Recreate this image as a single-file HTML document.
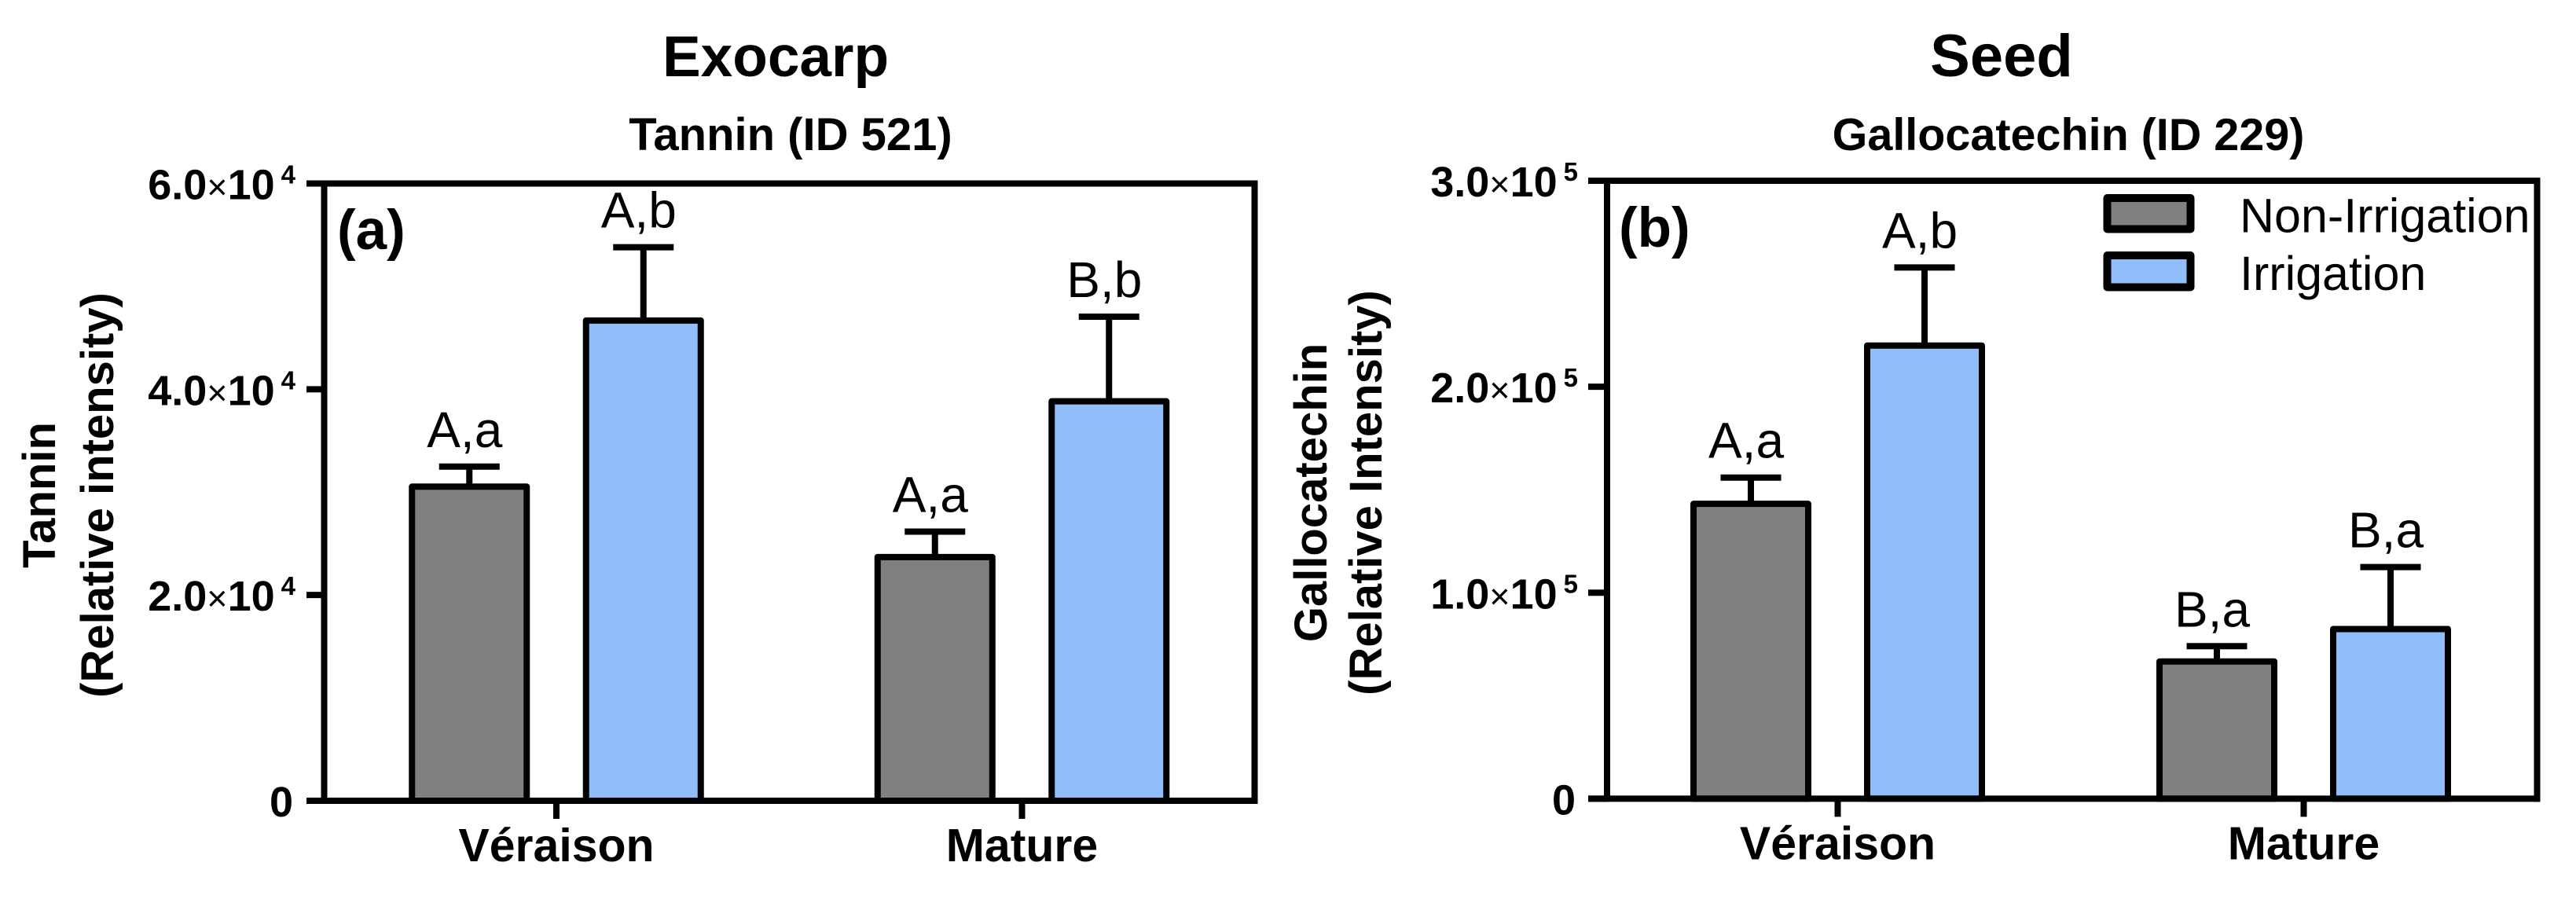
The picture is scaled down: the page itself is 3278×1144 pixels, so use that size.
<!DOCTYPE html>
<html lang="en">
<head>
<meta charset="utf-8">
<title>Exocarp and Seed relative intensity</title>
<style>
html,body{margin:0;padding:0;background:#fff;width:3278px;height:1144px;overflow:hidden}
svg{display:block}
text{font-family:"Liberation Sans",Arial,sans-serif;fill:#000}
.b{font-weight:bold}
</style>
</head>
<body>
<svg id="figure" xmlns="http://www.w3.org/2000/svg" width="3278" height="1144" viewBox="0 0 3278 1144">
  <rect x="0" y="0" width="3278" height="1144" fill="#fff"/>

  <text class="b" x="987" y="97" font-size="73" text-anchor="middle">Exocarp</text>
  <text class="b" x="1006" y="191" font-size="58" text-anchor="middle">Tannin (ID 521)</text>
  <text class="b" font-size="58" text-anchor="middle" transform="translate(70 630) rotate(-90)">Tannin</text>
  <text class="b" font-size="58" text-anchor="middle" transform="translate(144 630) rotate(-90)">(Relative intensity)</text>
  <text class="b" x="429" y="317" font-size="71">(a)</text>

  <text class="b" x="2547" y="97" font-size="76" text-anchor="middle">Seed</text>
  <text class="b" x="2632" y="191" font-size="57.5" text-anchor="middle">Gallocatechin (ID 229)</text>
  <text class="b" font-size="58" text-anchor="middle" transform="translate(1688 627) rotate(-90)">Gallocatechin</text>
  <text class="b" font-size="58" text-anchor="middle" transform="translate(1758 627) rotate(-90)">(Relative Intensity)</text>
  <text class="b" x="2060" y="314" font-size="71">(b)</text>

  <g id="panel-a"></g>
  <g id="panel-b"></g>

  <g>
    <rect x="2681.5" y="252" width="106" height="39.5" fill="#808080" stroke="#000" stroke-width="10" stroke-linejoin="round"/>
    <text x="2850" y="295.5" font-size="61">Non-Irrigation</text>
    <rect x="2681.5" y="325" width="106" height="40.5" fill="#91BEFA" stroke="#000" stroke-width="10" stroke-linejoin="round"/>
    <text x="2850" y="369" font-size="61">Irrigation</text>
  </g>
</svg>
<script>
const categories = ["Véraison", "Mature"];

const exocarpTicks = [0, 20000, 40000, 60000];
const exocarpTickLabels = ["0", "2.0×10^4", "4.0×10^4", "6.0×10^4"];
const exocarpNonIrrigation = [30530, 23690];
const exocarpIrrigation = [46680, 38830];
const exocarpNonIrrigationErrorTop = [32480, 26160];
const exocarpIrrigationErrorTop = [53800, 47050];
const exocarpNonIrrigationLetters = ["A,a", "A,a"];
const exocarpIrrigationLetters = ["A,b", "B,b"];

const seedTicks = [0, 100000, 200000, 300000];
const seedTickLabels = ["0", "1.0×10^5", "2.0×10^5", "3.0×10^5"];
const seedNonIrrigation = [143150, 66640];
const seedIrrigation = [220000, 82370];
const seedNonIrrigationErrorTop = [155900, 74050];
const seedIrrigationErrorTop = [257900, 112450];
const seedNonIrrigationLetters = ["A,a", "B,a"];
const seedIrrigationLetters = ["A,b", "B,a"];

const SVGNS = "http://www.w3.org/2000/svg";
function make(tag, attrs, parent) {
  const el = document.createElementNS(SVGNS, tag);
  for (const k in attrs) el.setAttribute(k, attrs[k]);
  parent.appendChild(el);
  return el;
}

function drawPanel(cfg) {
  const g = document.getElementById(cfg.id);
  const yScale = v => cfg.y0 - (v / cfg.yMax) * (cfg.y0 - cfg.yTop);
  const xScale = i => cfg.x0cat + i * cfg.catStep;

  // frame: top and right
  const frameTop = make("line", {x1: cfg.tickLeft, x2: cfg.right + 4, y1: cfg.yTop, y2: cfg.yTop, stroke: "#000", "stroke-width": 8}, g);
  
  
  const frameRight = make("line", {x1: cfg.right, x2: cfg.right, y1: cfg.yTop, y2: cfg.y0 + 4, stroke: "#000", "stroke-width": 8}, g);
  
  
  const yAxis = make("line", {x1: cfg.left, x2: cfg.left, y1: cfg.yTop, y2: cfg.y0, stroke: "#000", "stroke-width": 8}, g);
  
  

  // y ticks
  cfg.ticks.forEach((t, i) => {
    const y = yScale(t);
    const tick = make("line", {x1: cfg.tickLeft, x2: cfg.left, y1: y, y2: y, stroke: "#000", "stroke-width": 8}, g);
    
    
    const label = cfg.tickLabels[i];
    const text = make("text", {x: cfg.labelRight, y: y + 20, "text-anchor": "end", "font-size": 54, "font-weight": "bold"}, g);
    
    
    if (label.indexOf("×") < 0) {
      text.setAttribute("x", cfg.labelRight - 3);
      text.textContent = label;
    } else {
      const mant = label.split("×")[0];
      const rest = label.split("×")[1].split("^");
      make("tspan", {}, text).textContent = mant;
      make("tspan", {"font-weight": "normal", "font-size": 45}, text).textContent = "×";
      make("tspan", {}, text).textContent = rest[0];
      make("tspan", {"font-size": 33, dx: 8, dy: -20}, text).textContent = rest[1];
    }
  });

  // bars, error bars, letters
  const series = [
    {name: "non-irrigation", vals: cfg.nonIrr, err: cfg.nonIrrErr, letters: cfg.nonIrrLetters, fill: "#808080", off: -cfg.dodge},
    {name: "irrigation", vals: cfg.irr, err: cfg.irrErr, letters: cfg.irrLetters, fill: "#91BEFA", off: cfg.dodge}
  ];
  series.forEach(s => {
    s.vals.forEach((v, i) => {
      const cx = xScale(i) + s.off;
      const yv = yScale(v);
      const ye = yScale(s.err[i]);
      const stem = make("line", {x1: cx, x2: cx, y1: ye, y2: yv, stroke: "#000", "stroke-width": 8}, g);
      
      
      const cap = make("line", {x1: cx - 38.5, x2: cx + 38.5, y1: ye, y2: ye, stroke: "#000", "stroke-width": 8}, g);
      
      
      const bar = make("rect", {x: cx - 73, y: yv, width: 146, height: cfg.y0 - yv, fill: s.fill, stroke: "#000", "stroke-width": 8, "stroke-linejoin": "round"}, g);
      
      
      const letter = make("text", {x: cx - 6, y: ye - 25, "text-anchor": "middle", "font-size": 64}, g);
      
      
      letter.textContent = s.letters[i];
    });
  });

  // baseline and x ticks
  const xAxis = make("line", {x1: cfg.tickLeft, x2: cfg.right + 4, y1: cfg.y0, y2: cfg.y0, stroke: "#000", "stroke-width": 8}, g);
  
  
  categories.forEach((c, i) => {
    const x = xScale(i);
    const tick = make("line", {x1: x, x2: x, y1: cfg.y0, y2: cfg.y0 + 23, stroke: "#000", "stroke-width": 8}, g);
    
    
    const text = make("text", {x: x, y: cfg.y0 + 77, "text-anchor": "middle", "font-size": 59, "font-weight": "bold"}, g);
    
    
    text.textContent = c;
  });
}

drawPanel({
  id: "panel-a", yMax: 60000, y0: 1019, yTop: 233.5, left: 412.5, right: 1596.5, tickLeft: 390, labelRight: 376,
  x0cat: 708, catStep: 592.5, dodge: 110.75,
  ticks: exocarpTicks, tickLabels: exocarpTickLabels,
  nonIrr: exocarpNonIrrigation, irr: exocarpIrrigation,
  nonIrrErr: exocarpNonIrrigationErrorTop, irrErr: exocarpIrrigationErrorTop,
  nonIrrLetters: exocarpNonIrrigationLetters, irrLetters: exocarpIrrigationLetters
});
drawPanel({
  id: "panel-b", yMax: 300000, y0: 1016.4, yTop: 230, left: 2045, right: 3228.5, tickLeft: 2021, labelRight: 2008,
  x0cat: 2338.5, catStep: 593, dodge: 110.5,
  ticks: seedTicks, tickLabels: seedTickLabels,
  nonIrr: seedNonIrrigation, irr: seedIrrigation,
  nonIrrErr: seedNonIrrigationErrorTop, irrErr: seedIrrigationErrorTop,
  nonIrrLetters: seedNonIrrigationLetters, irrLetters: seedIrrigationLetters
});
</script>
</body>
</html>
